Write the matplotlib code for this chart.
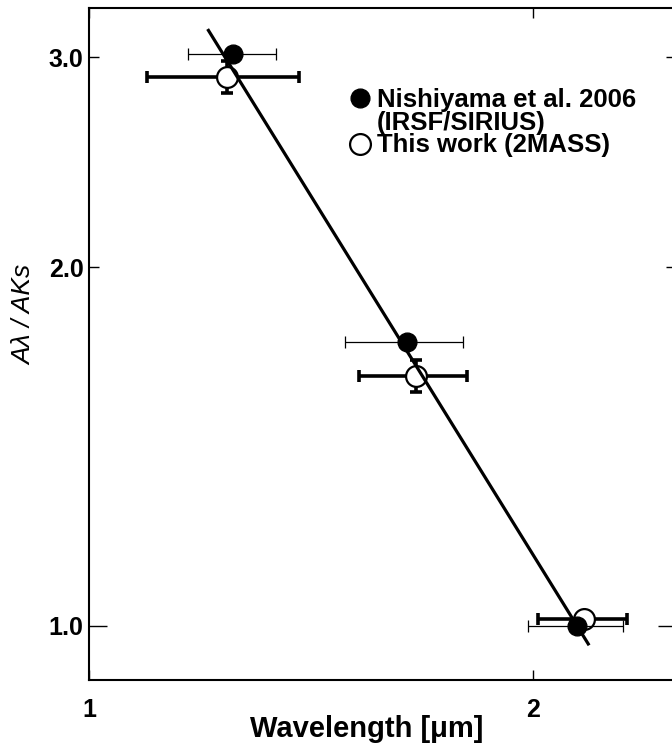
import matplotlib.pyplot as plt
from matplotlib.ticker import NullLocator

plt.rcParams['font.family'] = ['Liberation Sans', 'DejaVu Sans']

# Nishiyama et al. 2006 (IRSF/SIRIUS)
nis_wave = [1.253, 1.642, 2.143]
nis_ratio = [3.02, 1.73, 1.00]
nis_wave_err = [0.085, 0.15, 0.16]

# This work (2MASS)
tw_wave = [1.241, 1.665, 2.165]
tw_ratio = [2.89, 1.62, 1.012]
tw_wave_err = [0.146, 0.14, 0.15]
tw_ratio_err = [0.09, 0.05, 0.0]

# power-law fit, end points of the drawn line
fit_wave = [1.205, 2.18]
fit_ratio = [3.16, 0.965]

x_ticks = [1, 2]
x_labels = ['1', '2']
y_ticks = [1.0, 2.0, 3.0]
y_labels = ['1.0', '2.0', '3.0']

fig = plt.figure(figsize=(6.72, 7.47), dpi=100)
ax = fig.add_axes([89 / 672, 67 / 747, 587 / 672, 672 / 747])
ax.set_xscale('log')
ax.set_yscale('log')

# thick error bars + open circles (this work)
ax.errorbar(tw_wave, tw_ratio, xerr=tw_wave_err, yerr=tw_ratio_err, fmt='none',
            ecolor='black', elinewidth=2.6, capsize=4.5, capthick=2.6, zorder=2)
ax.plot(tw_wave, tw_ratio, 'o', ms=15, mfc='white', mec='black', mew=1.6, zorder=3)

# thin error bars + filled circles (Nishiyama)
ax.errorbar(nis_wave, nis_ratio, xerr=nis_wave_err, fmt='none',
            ecolor='black', elinewidth=0.9, capsize=4.5, capthick=0.9, zorder=4)
ax.plot(nis_wave, nis_ratio, 'o', ms=13.5, color='black', zorder=5)

ax.plot(fit_wave, fit_ratio, '-', color='black', lw=2.3, zorder=6)

ax.set_xlim(1.0, 2.5)
ax.set_ylim(0.9, 3.3)

ax.set_xticks(x_ticks)
ax.set_xticklabels(x_labels)
ax.set_yticks(y_ticks)
ax.set_yticklabels(y_labels)
ax.xaxis.set_minor_locator(NullLocator())
ax.yaxis.set_minor_locator(NullLocator())
ax.tick_params(direction='in', length=7, width=1, top=True, right=True, labelsize=18)
ax.tick_params(axis='x', pad=13)
ax.tick_params(axis='y', pad=4)
for t in ax.yaxis.get_major_ticks()[:1]:
    t.tick1line.set_markersize(13)
    t.tick2line.set_markersize(13)
for lab in ax.get_xticklabels() + ax.get_yticklabels():
    lab.set_fontweight('bold')

for s in ax.spines.values():
    s.set_linewidth(1.5)

ax.set_xlabel('Wavelength [\u03bcm]', fontsize=21, fontweight='bold', labelpad=0)
ax.xaxis.set_label_coords((367 - 89) / 587, -(737 - 680) / 672)
ax.xaxis.label.set_va('baseline')
ax.set_ylabel('A\u03bb / AKs', fontsize=19, style='italic')
ax.yaxis.set_label_coords((24 - 89) / 587, (680 - 315) / 672)
ax.yaxis.label.set_va('center')

# legend drawn by hand
ax.plot([0.4617], [0.8661], 'o', ms=13.5, color='black', transform=ax.transAxes, clip_on=False)
ax.plot([0.4617], [0.7976], 'o', ms=15, mfc='white', mec='black', mew=1.6,
        transform=ax.transAxes, clip_on=False)
ax.text(0.4906, 0.8527, 'Nishiyama et al. 2006', transform=ax.transAxes,
        fontsize=18.5, fontweight='bold', va='baseline')
ax.text(0.4906, 0.8185, '(IRSF/SIRIUS)', transform=ax.transAxes,
        fontsize=18.5, fontweight='bold', va='baseline')
ax.text(0.4906, 0.7857, 'This work (2MASS)', transform=ax.transAxes,
        fontsize=18.5, fontweight='bold', va='baseline')

fig.savefig('out.png', dpi=100)
